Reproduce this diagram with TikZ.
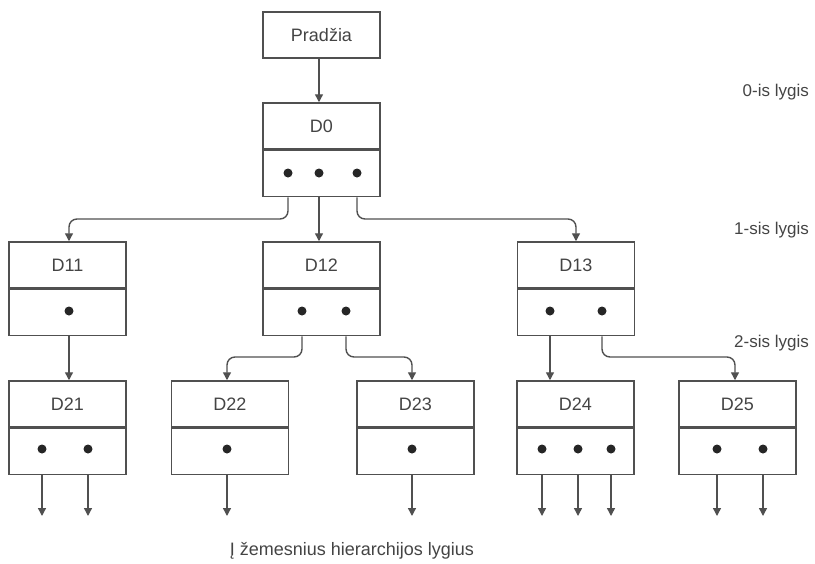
\documentclass[tikz,border=0pt]{standalone}
\usepackage{fontspec}
\setmainfont{Liberation Sans}
\usetikzlibrary{arrows.meta}
\definecolor{ln}{HTML}{505050}
\definecolor{tx}{HTML}{444444}
\tikzset{
  part/.style={draw=ln, line width=1.5pt, minimum width=117pt, minimum height=46pt, inner sep=0pt, text=tx, font=\fontsize{18}{20}\selectfont},
  dot/.style={circle, fill=black!85, inner sep=0pt, minimum size=9pt},
  conn/.style={draw=ln, line width=1.4pt, rounded corners=8pt, -{Triangle[length=8pt,width=8pt]}},
  lvl/.style={anchor=east, text=tx, inner sep=0pt, font=\fontsize{17}{20}\selectfont},
}
\begin{document}
\begin{tikzpicture}[x=1pt,y=-1pt]
\useasboundingbox (0,0) rectangle (815,563);
% top
\node[part] (P) at (321.5,35) {Pradžia};
\node[part] (D0) at (321.5,126) {D0};
\node[part, anchor=north] (D0b) at (D0.south) {};
% level 1
\node[part] (D11) at (67.5,265) {D11};
\node[part, anchor=north] (D11b) at (D11.south) {};
\node[part] (D12) at (321.5,265) {D12};
\node[part, anchor=north] (D12b) at (D12.south) {};
\node[part] (D13) at (576,265) {D13};
\node[part, anchor=north] (D13b) at (D13.south) {};
% level 2
\node[part] (D21) at (67.5,404) {D21};
\node[part, anchor=north] (D21b) at (D21.south) {};
\node[part] (D22) at (230,404) {D22};
\node[part, anchor=north] (D22b) at (D22.south) {};
\node[part] (D23) at (415.5,404) {D23};
\node[part, anchor=north] (D23b) at (D23.south) {};
\node[part] (D24) at (575.5,404) {D24};
\node[part, anchor=north] (D24b) at (D24.south) {};
\node[part] (D25) at (737.5,404) {D25};
\node[part, anchor=north] (D25b) at (D25.south) {};
% dots
\node[dot] (d0a) at (288,173) {};
\node[dot] (d0b) at (319,173) {};
\node[dot] (d0c) at (357,173) {};
\node[dot] (d11a) at (69,311) {};
\node[dot] (d12a) at (302,311) {};
\node[dot] (d12b) at (346,311) {};
\node[dot] (d13a) at (550,311) {};
\node[dot] (d13b) at (602,311) {};
\node[dot] (d21a) at (42,449) {};
\node[dot] (d21b) at (88,449) {};
\node[dot] (d22a) at (227,449) {};
\node[dot] (d23a) at (412,449) {};
\node[dot] (d24a) at (542,449) {};
\node[dot] (d24b) at (578,449) {};
\node[dot] (d24c) at (611,449) {};
\node[dot] (d25a) at (717,449) {};
\node[dot] (d25b) at (763,449) {};
% helper coordinates
\coordinate (h1) at (0,219);
\coordinate (h2) at (0,357);
\coordinate (bot) at (0,516);
\coordinate (t11) at (69,0);
\coordinate (t22) at (227,0);
\coordinate (t23) at (412,0);
\coordinate (t25) at (735,0);
% connectors
\draw[conn] (P.south -| d0b) -- (d0b |- D0.north);
\draw[conn] (d0a |- D0b.south) -- (d0a |- h1) -- (t11 |- h1) -- (t11 |- D11.north);
\draw[conn] (d0b |- D0b.south) -- (d0b |- D12.north);
\draw[conn] (d0c |- D0b.south) -- (d0c |- h1) -- (D13.north |- h1) -- (D13.north);
\draw[conn] (d11a |- D11b.south) -- (d11a |- D21.north);
\draw[conn] (d12a |- D12b.south) -- (d12a |- h2) -- (t22 |- h2) -- (t22 |- D22.north);
\draw[conn] (d12b |- D12b.south) -- (d12b |- h2) -- (t23 |- h2) -- (t23 |- D23.north);
\draw[conn] (d13a |- D13b.south) -- (d13a |- D24.north);
\draw[conn] (d13b |- D13b.south) -- (d13b |- h2) -- (t25 |- h2) -- (t25 |- D25.north);
\foreach \d/\b in {d21a/D21b,d21b/D21b,d22a/D22b,d23a/D23b,d24a/D24b,d24b/D24b,d24c/D24b,d25a/D25b,d25b/D25b}
  \draw[conn] (\d |- \b.south) -- (\d |- bot);
% labels
\node[lvl] (L0) at (809,92) {0-is lygis};
\node[lvl] (L1) at (809,230) {1-sis lygis};
\node[lvl] (L2) at (809,343) {2-sis lygis};
\node[text=tx, inner sep=0pt, font=\fontsize{18}{20}\selectfont] (B) at (352,551) {Į žemesnius hierarchijos lygius};
\end{tikzpicture}
\end{document}
